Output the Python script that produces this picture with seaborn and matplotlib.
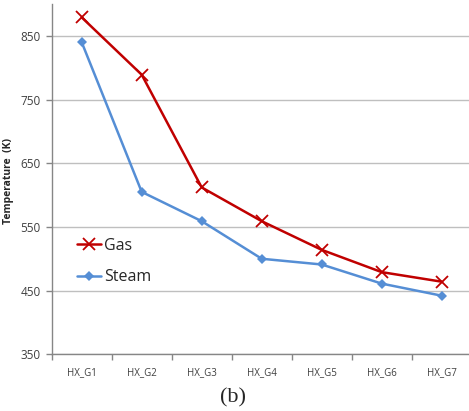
import matplotlib
matplotlib.use("Agg")
import matplotlib.pyplot as plt
import seaborn as sns
import pandas as pd
import numpy as np
from matplotlib.ticker import FixedLocator

# values
stages = ["HX_G1", "HX_G2", "HX_G3", "HX_G4", "HX_G5", "HX_G6", "HX_G7"]
gas_temp = [879, 789, 612, 559, 514, 479, 464]
steam_temp = [840, 605, 559, 500, 491, 461, 442]
y_ticks = [350, 450, 550, 650, 750, 850]

sns.set_style("white")
plt.rcParams['font.family'] = ['Open Sans', 'DejaVu Sans']

fig = plt.figure(figsize=(4.69, 4.11), dpi=100)
ax = fig.add_axes([51.7 / 469, 1 - 354.3 / 411, 420 / 469, (354.3 - 4) / 411])

df = pd.DataFrame({"pos": np.arange(len(stages)), "stage": stages,
                   "Gas": gas_temp, "Steam": steam_temp})

sns.lineplot(data=df, x="pos", y="Gas", ax=ax, color="#C00000", lw=1.8,
             marker="x", markersize=9, markeredgewidth=1.3, markeredgecolor="#C00000",
             label="Gas")
sns.lineplot(data=df, x="pos", y="Steam", ax=ax, color="#558ED5", lw=1.8,
             marker="D", markersize=5.5, markeredgewidth=0, label="Steam")

ax.set_xlim(-0.5, len(stages) - 0.5)
ax.set_ylim(350, 900)
ax.set_yticks(y_ticks)
ax.yaxis.grid(True, color="#BFBFBF", lw=1)
ax.set_axisbelow(True)

ax.set_xticks(df["pos"])
ax.set_xticklabels(stages, fontsize=7, color="#404040")
ax.xaxis.set_minor_locator(FixedLocator(np.arange(-0.5, len(stages), 1)))
ax.tick_params(axis="x", which="major", length=0, pad=9)
ax.tick_params(axis="x", which="minor", length=4, color="#868686", width=1, bottom=True)
ax.tick_params(axis="y", length=4, color="#868686", width=1, left=True,
               labelsize=8.5, labelcolor="#404040", pad=4)

for side in ["top", "right"]:
    ax.spines[side].set_visible(False)
for side in ["left", "bottom"]:
    ax.spines[side].set_color("#868686")
    ax.spines[side].set_linewidth(1)

ax.set_xlabel("")
ax.set_ylabel("Temperature  (K)", fontsize=7.5, fontweight="bold")
ax.yaxis.set_label_coords((14 - 51.7) / 420, (354.3 - 181) / 350.3)

ax.legend(loc="upper left", bbox_to_anchor=(69 / 469, 1 - 230 / 411),
          bbox_transform=fig.transFigure, frameon=False, fontsize=11.5,
          handlelength=1.5, handletextpad=0.2, labelspacing=0.95, borderpad=0)

fig.text(233 / 469, 1 - 398 / 411, "(b)", ha="center", va="center",
         fontsize=16, family="Liberation Serif")

fig.savefig("out.png", dpi=100)
